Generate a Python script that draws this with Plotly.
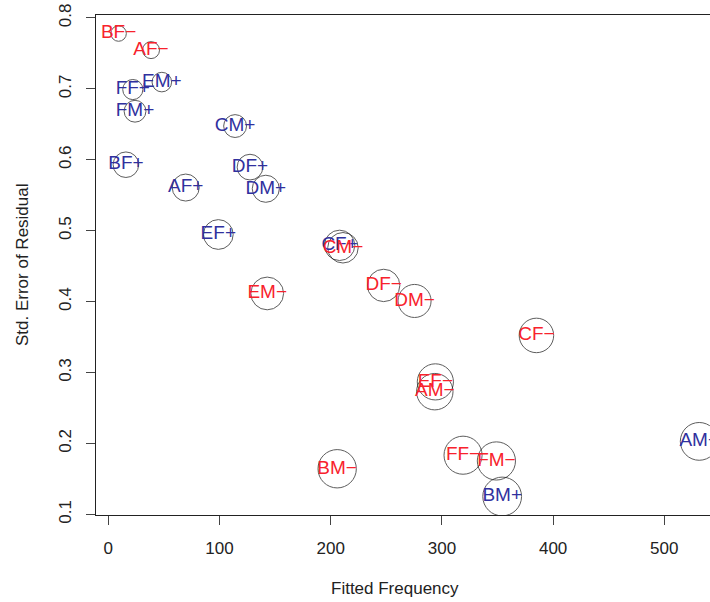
import plotly.graph_objects as go

# Cell labels: Dept (A-F), Gender (M/F), Admit (+ admitted / − rejected)
labels = ["AM+", "AF+", "AM−", "AF−",
          "BM+", "BF+", "BM−", "BF−",
          "CM+", "CF+", "CM−", "CF−",
          "DM+", "DF+", "DM−", "DF−",
          "EM+", "EF+", "EM−", "EF−",
          "FM+", "FF+", "FM−", "FF−"]
admitted = [True, True, False, False] * 6

fitted = [531.4, 69.6, 293.6, 38.4,
          354.2, 15.8, 205.8, 9.2,
          114.0, 208.0, 211.0, 385.0,
          141.6, 127.4, 275.4, 247.6,
          48.1, 98.9, 142.9, 294.1,
          24.0, 22.0, 349.0, 319.0]

std_err = [0.2030, 0.5609, 0.2731, 0.7547,
           0.1253, 0.5931, 0.1644, 0.7781,
           0.6476, 0.4794, 0.4760, 0.3524,
           0.5592, 0.5897, 0.4010, 0.4229,
           0.7096, 0.4947, 0.4116, 0.2869,
           0.6685, 0.6991, 0.1754, 0.1835]

hat = [0.9588, 0.6854, 0.9254, 0.4304,
       0.9843, 0.6482, 0.9730, 0.3946,
       0.5806, 0.7702, 0.7734, 0.8758,
       0.6873, 0.6523, 0.8392, 0.8212,
       0.4964, 0.7553, 0.8306, 0.9177,
       0.5532, 0.5113, 0.9692, 0.9663]

x_ticks = [0, 100, 200, 300, 400, 500]
y_ticks = [0.1, 0.2, 0.3, 0.4, 0.5, 0.6, 0.7, 0.8]
y_tick_text = ["0.1", "0.2", "0.3", "0.4", "0.5", "0.6", "0.7", "0.8"]

FONT = "Liberation Sans, Arial, sans-serif"
BLUE = "#30309e"
RED = "#f8222c"

fig = go.Figure()

fig.add_trace(go.Scatter(
    x=fitted, y=std_err, mode="markers",
    marker=dict(symbol="circle", size=hat, sizemode="diameter", sizeref=1 / 39.4,
                color="rgba(0,0,0,0)", line=dict(color="#1a1a1a", width=1)),
    hoverinfo="skip", showlegend=False,
))

for flag, col in [(True, BLUE), (False, RED)]:
    idx = [i for i, a in enumerate(admitted) if a == flag]
    fig.add_trace(go.Scatter(
        x=[fitted[i] for i in idx], y=[std_err[i] for i in idx],
        text=[labels[i] for i in idx], mode="text", textposition="middle center",
        textfont=dict(family=FONT, size=19, color=col),
        hoverinfo="skip", showlegend=False,
    ))

fig.update_layout(
    width=710, height=602,
    margin=dict(l=96, r=0, t=15, b=87),
    plot_bgcolor="white", paper_bgcolor="white",
    font=dict(family=FONT, size=17, color="#222"),
    xaxis=dict(range=[-11.1, 541.1], tickvals=x_ticks, ticks="outside", ticklen=9,
               tickwidth=1, tickcolor="#444", showline=True, linecolor="#222",
               linewidth=1.3, mirror=True, showgrid=False, zeroline=False,
               ticklabelstandoff=8, tickfont=dict(size=17, color="#222")),
    yaxis=dict(range=[0.0992, 0.8042], tickvals=y_ticks, ticktext=y_tick_text,
               ticks="outside", ticklen=9, tickwidth=1, tickcolor="#444",
               showline=True, linecolor="#222", linewidth=1.3, mirror=False,
               showgrid=False, zeroline=False, tickangle=-90, ticklabelstandoff=8,
               tickfont=dict(size=17, color="#222")),
    annotations=[
        dict(text="Fitted Frequency", xref="paper", yref="paper", x=0.5, y=0,
             xshift=-8, yshift=-73, showarrow=False, xanchor="center", yanchor="middle",
             font=dict(size=17, color="#222")),
        dict(text="Std. Error of Residual", xref="paper", yref="paper", x=0, y=0.5,
             xshift=-74, showarrow=False, xanchor="center", yanchor="middle",
             textangle=-90, font=dict(size=17, color="#222")),
    ],
)

fig.write_html("out.html")
